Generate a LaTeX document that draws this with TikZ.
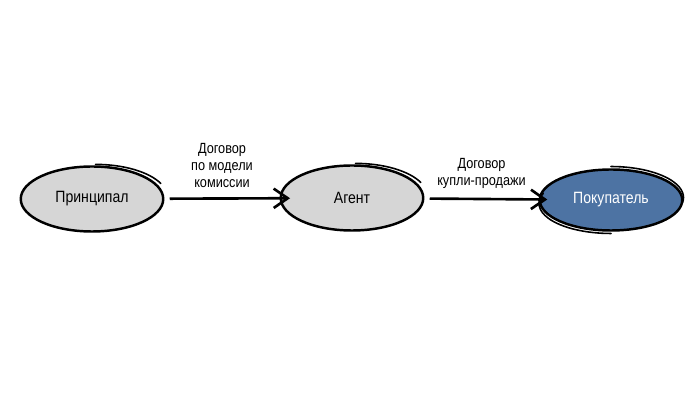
\documentclass[tikz,border=0pt]{standalone}
\usepackage{fontspec}
\setmainfont{Liberation Sans}[FakeStretch=0.86]
\usetikzlibrary{shapes.geometric, arrows.meta, positioning}

\definecolor{lightgrey}{HTML}{D6D6D6}
\definecolor{steelblue}{HTML}{4D73A3}

\tikzset{
	party/.style={ellipse, draw=black, line width=1.4pt, fill=lightgrey,
		minimum width=2.85cm, minimum height=1.3cm, inner sep=0pt,
		font=\fontsize{9.3}{10.5}\selectfont},
	buyer/.style={party, fill=steelblue, text=white, minimum height=1.22cm},
	contract/.style={draw, line width=1.5pt, -{Straight Barb[length=8pt,width=11pt]}},
	terms/.style={align=center, font=\fontsize{8.4}{9.6}\selectfont, anchor=south},
	stroke/.style={line width=0.9pt, line cap=round}
}

\begin{document}
\begin{tikzpicture}
	\useasboundingbox (0,0) rectangle (14,8);
	
	\node[party] (principal) at (1.84,4.02) {Принципал};
	\node[party] (agent) at (7.04,4.04) {Агент};
	\node[buyer] (buyer) at (12.22,4.0) {Покупатель};
	
	% second pencil strokes
	\draw[stroke] ([xshift=2pt,yshift=0.5pt]principal.north) arc[start angle=90, end angle=25, x radius=1.44cm, y radius=0.66cm];
	\draw[stroke] ([xshift=2pt,yshift=0.5pt]agent.north) arc[start angle=90, end angle=25, x radius=1.44cm, y radius=0.66cm];
	\draw[stroke] ([yshift=1pt]buyer.north) arc[start angle=90, end angle=-10, x radius=1.45cm, y radius=0.62cm];
	\draw[stroke] ([yshift=-1pt]buyer.south) arc[start angle=-90, end angle=-200, x radius=1.44cm, y radius=0.6cm];
	
	\draw[contract, shorten <=3pt, shorten >=-6pt] (principal) -- (agent)
		node[terms, midway, above=2pt] (commission) {Договор\\по модели\\комиссии};
	\draw[contract, shorten <=3pt, shorten >=-5pt] (agent) -- (buyer)
		node[terms, midway, above=2pt] (sale) {Договор\\купли-продажи};
\end{tikzpicture}
\end{document}
